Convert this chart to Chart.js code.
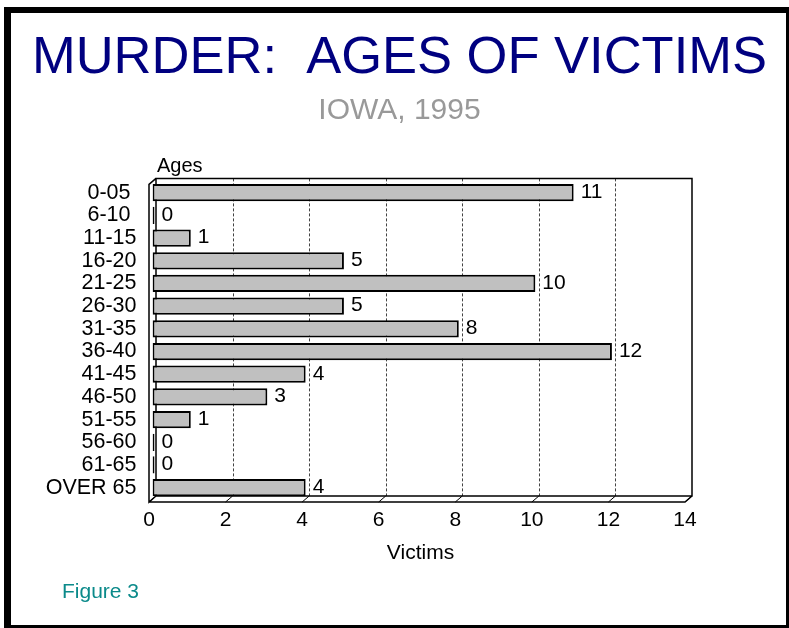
<!DOCTYPE html>
<html>
<head>
<meta charset="utf-8">
<title>Murder: Ages of Victims</title>
<script src="https://cdn.jsdelivr.net/npm/chart.js@4.4.0/dist/chart.umd.min.js"></script>
<style>
  html, body { margin: 0; padding: 0; background: #fff; overflow: hidden; }
  #frame { position: absolute; left: 4px; top: 7px; width: 775px; height: 612px;
           border: 7px solid #000; border-top-width: 6px; }
  #wrap { position: absolute; left: 0; top: 0; width: 789px; height: 628px; }
</style>
</head>
<body>
<div id="frame"></div>
<div id="wrap"><canvas id="victimChart" width="789" height="628"></canvas></div>
<script>
// age groups (trailing spaces as in the original labels)
var ageGroups = ['0-05 ', '6-10 ', '11-15', '16-20', '21-25', '26-30', '31-35',
                 '36-40', '41-45', '46-50', '51-55', '56-60', '61-65', 'OVER 65'];
// number of victims per age group
var victims = [11, 0, 1, 5, 10, 5, 8, 12, 4, 3, 1, 0, 0, 4];
// x axis range
var victimMin = 0, victimMax = 14, victimStep = 2;

var FONT = 'Arial, "Liberation Sans", sans-serif';
var DX = 3.5, DY = 3;   // half depth of the 3d frame

// back wall, left wall and floor like the old 3d chart
var frame3d = {
    id: 'frame3d',
    beforeDatasetsDraw: function (chart) {
        var ctx = chart.ctx, a = chart.chartArea, xs = chart.scales.x;
        var bl = a.left + DX, bt = a.top - DY, br = a.right + DX, bb = a.bottom - DY;
        var fl = a.left - DX, ft = a.top + DY, fr = a.right - DX, fb = a.bottom + DY;
        ctx.save();
        // dashed grid on the back wall
        ctx.strokeStyle = '#444';
        ctx.lineWidth = 1;
        ctx.setLineDash([3, 2]);
        xs.ticks.forEach(function (t) {
            if (t.value <= xs.min || t.value >= xs.max) return;
            var x = Math.round(xs.getPixelForValue(t.value) + DX) + 0.5;
            ctx.beginPath();
            ctx.moveTo(x, bt);
            ctx.lineTo(x, bb);
            ctx.stroke();
        });
        ctx.setLineDash([]);
        ctx.strokeStyle = '#000';
        // floor tick diagonals
        xs.ticks.forEach(function (t) {
            var x = xs.getPixelForValue(t.value);
            ctx.beginPath();
            ctx.moveTo(x - DX, fb);
            ctx.lineTo(x + DX, bb);
            ctx.stroke();
        });
        ctx.lineWidth = 1.5;
        ctx.beginPath();
        // back wall
        ctx.moveTo(bl, bb); ctx.lineTo(bl, bt); ctx.lineTo(br, bt); ctx.lineTo(br, bb); ctx.lineTo(bl, bb);
        // left wall
        ctx.moveTo(bl, bt); ctx.lineTo(fl, ft); ctx.lineTo(fl, fb); ctx.lineTo(bl, bb);
        // floor
        ctx.moveTo(fl, fb); ctx.lineTo(fr, fb); ctx.lineTo(br, bb);
        ctx.stroke();
        ctx.restore();
    }
};

// value labels and the loose texts
var textLabels = {
    id: 'textLabels',
    afterDatasetsDraw: function (chart) {
        var ctx = chart.ctx, meta = chart.getDatasetMeta(0);
        ctx.save();
        ctx.font = '21px ' + FONT;
        ctx.fillStyle = '#000';
        ctx.textAlign = 'left';
        ctx.textBaseline = 'middle';
        meta.data.forEach(function (bar, i) {
            ctx.fillText(String(victims[i]), bar.x + 7, bar.y - 0.5);
        });
        ctx.textBaseline = 'alphabetic';
        ctx.font = '20px ' + FONT;
        ctx.fillText('Ages', 157, 171.5);
        ctx.font = '21px ' + FONT;
        ctx.fillStyle = '#0b8a8a';
        ctx.fillText('Figure 3', 62, 598);
        ctx.restore();
    }
};

var ctxVictims = document.getElementById('victimChart').getContext('2d');
var victimChart = new Chart(ctxVictims, {
    type: 'bar',
    data: {
        labels: ageGroups,
        datasets: [{
            label: 'Victims',
            data: victims,
            backgroundColor: '#c0c0c0',
            borderColor: '#000',
            borderWidth: 2,
            borderSkipped: false,
            barPercentage: 0.76,
            categoryPercentage: 1,
            minBarLength: 2
        }]
    },
    options: {
        indexAxis: 'y',
        responsive: false,
        animation: false,
        layout: { padding: { left: 10, right: 0, top: 0, bottom: 0 } },
        plugins: {
            legend: { display: false },
            tooltip: { enabled: false },
            title: {
                display: true,
                text: 'MURDER:  AGES OF VICTIMS',
                color: '#000080',
                font: { family: FONT, size: 52.5, weight: 'normal' },
                padding: { top: 27, bottom: 0 }
            },
            subtitle: {
                display: true,
                text: 'IOWA, 1995',
                color: '#999999',
                font: { family: FONT, size: 30, weight: 'normal' },
                padding: { top: 3, bottom: 52.4 }
            }
        },
        scales: {
            x: {
                type: 'linear',
                min: victimMin,
                max: victimMax,
                grid: { display: false, drawTicks: false },
                border: { display: false },
                ticks: {
                    stepSize: victimStep,
                    color: '#000',
                    font: { family: FONT, size: 21 },
                    padding: 9,
                    labelOffset: -DX,
                    maxRotation: 0
                },
                title: {
                    display: true,
                    text: 'Victims',
                    color: '#000',
                    font: { family: FONT, size: 21 },
                    padding: { top: 0, bottom: 62 }
                },
                afterFit: function (s) { s.height = 129; }
            },
            y: {
                grid: { display: false, drawTicks: false },
                border: { display: false },
                ticks: {
                    color: '#000',
                    font: { family: FONT, size: 21.5 },
                    padding: 16,
                    autoSkip: false
                },
                afterFit: function (s) { s.width = 142.5; }
            },
            // empty right axis only to leave room on the right
            yRight: {
                type: 'linear',
                position: 'right',
                grid: { display: false, drawTicks: false },
                border: { display: false },
                ticks: { display: false },
                afterFit: function (s) { s.width = 100.5; }
            }
        }
    },
    plugins: [frame3d, textLabels]
});
</script>
</body>
</html>
